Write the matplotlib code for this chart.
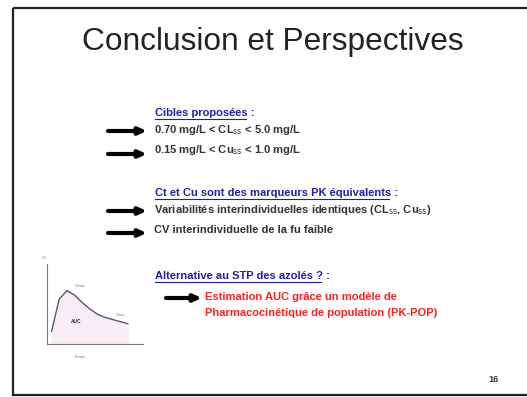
import numpy as np
import matplotlib.pyplot as plt
from matplotlib.patches import Rectangle

plt.rcParams['font.family'] = ['Liberation Sans', 'DejaVu Sans']

# Textes de la diapositive
titre = "Conclusion et Perspectives"
rubriques = ["Cibles proposées :",
             "Ct et Cu sont des marqueurs PK équivalents :",
             "Alternative au STP des azolés ? :"]
points = [r"0.70 mg/L < CL$_{\mathrm{ss}}$ < 5.0 mg/L",
          r"0.15 mg/L < Cu$_{\mathrm{ss}}$ < 1.0 mg/L",
          r"Variabilités interindividuelles identiques (CL$_{\mathrm{ss}}$, Cu$_{\mathrm{ss}}$)",
          "CV interindividuelle de la fu faible"]
conclusion = ["Estimation AUC grâce un modèle de",
              "Pharmacocinétique de population (PK-POP)"]
num_page = "16"

# Courbe PK (schéma) : temps / concentration
temps = [0.0, 0.5, 1.0, 1.5, 2.0, 2.5, 3.0, 3.5, 4.0, 4.5, 5.0]
conc = [1.2, 4.2, 5.0, 4.6, 3.9, 3.3, 2.8, 2.5, 2.3, 2.1, 1.9]

fig = plt.figure(figsize=(5.27, 3.97), dpi=100)
ax = fig.add_axes([0, 0, 1, 1])
ax.set_xlim(0, 527)
ax.set_ylim(397, 0)
ax.axis('off')

# cadre de la diapo
ax.add_patch(Rectangle((13, 8), 530, 387, fill=False, ec='#222222', lw=1.6))

ax.text(273, 42, titre, fontsize=22.8, ha='center', va='center', color='#222222')

def fleche(x0, x1, y):
    ax.annotate('', xy=(x1, y), xytext=(x0, y),
                arrowprops=dict(arrowstyle='-|>,head_length=0.45,head_width=0.2',
                                lw=3, color='black', shrinkA=0, shrinkB=0))

bleu = '#1f1fa8'
y_rub = [113, 193, 276]
for r, y in zip(rubriques, y_rub):
    ax.text(155, y, r, fontsize=8, fontweight='bold', color=bleu,
            ha='left', va='center')

# soulignement des rubriques
fig.canvas.draw()
rend = fig.canvas.get_renderer()
for t in ax.texts[1:4]:
    bb = t.get_window_extent(rend)
    x0, x1 = bb.x0, bb.x1 - 9
    yb = 397 - bb.y0 + 1
    ax.plot([x0, x1], [yb, yb], color=bleu, lw=0.8)

y_pts = [130, 150, 210, 230]
y_fl = [131, 154, 211, 233]
for p, y, yf in zip(points, y_pts, y_fl):
    fleche(108, 147, yf)
    ax.text(154, y, p, fontsize=8, fontweight='bold', color='#333333',
            ha='left', va='center')

fleche(166, 202, 298)
for c, y in zip(conclusion, [297, 313]):
    ax.text(205, y, c, fontsize=8, fontweight='bold', color='#ff2020',
            ha='left', va='center')

ax.text(494, 380, num_page, fontsize=6.5, fontweight='bold', color='#333333',
        ha='center', va='center')

# schéma PK en encart
ins = fig.add_axes([47 / 527, 1 - 344 / 397, 96 / 527, 80 / 397])
ins.plot(temps, conc, color='#555577', lw=1)
ins.fill_between(temps, 0, conc, color='#f7eef5')
ins.set_xlim(-0.3, 6.0)
ins.set_ylim(0, 7.5)
for s in ['top', 'right']:
    ins.spines[s].set_visible(False)
for s in ['left', 'bottom']:
    ins.spines[s].set_color('#777777')
    ins.spines[s].set_linewidth(0.8)
ins.set_xticks([])
ins.set_yticks([])
ins.patch.set_alpha(0)
ins.text(1.6, 2.0, "AUC", fontsize=3.5, fontweight='bold', color='#333333', ha='center')
ins.text(1.5, 5.3, "Cmax", fontsize=3, color='#777777')
ins.text(4.2, 2.6, "Cmin", fontsize=3, color='#777777')
ax.text(44, 258, "Cc", fontsize=3, color='#777777', ha='center', va='center')
ax.text(80, 357, "Temps", fontsize=3, color='#777777', ha='center', va='center')

fig.savefig('out.png', dpi=100)
